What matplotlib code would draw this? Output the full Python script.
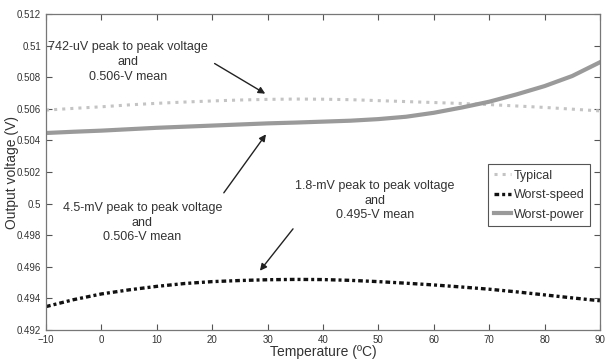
import matplotlib
matplotlib.use("Agg")
import matplotlib.pyplot as plt
from matplotlib.ticker import FuncFormatter

plt.rcParams['font.family'] = ['Liberation Sans', 'DejaVu Sans']

# temperature points (degC)
temps = [-10, -5, 0, 5, 10, 15, 20, 25, 30, 35, 40, 45, 50, 55, 60, 65, 70, 75, 80, 85, 90]

# output voltage (V)
typical = [0.50592, 0.50603, 0.50613, 0.50625, 0.50635, 0.50643, 0.50650,
           0.50656, 0.50660, 0.50662, 0.50661, 0.50658, 0.50652, 0.50646,
           0.50640, 0.50634, 0.50627, 0.50618, 0.50609, 0.50598, 0.50587]
worst_speed = [0.49348, 0.49392, 0.49428, 0.49454, 0.49476, 0.49494, 0.49506,
               0.49513, 0.49518, 0.49520, 0.49519, 0.49514, 0.49506, 0.49496,
               0.49485, 0.49472, 0.49458, 0.49441, 0.49422, 0.49403, 0.49385]
worst_power = [0.50447, 0.50455, 0.50462, 0.50471, 0.50480, 0.50487, 0.50494,
               0.50501, 0.50508, 0.50513, 0.50519, 0.50525, 0.50535, 0.50550,
               0.50575, 0.50608, 0.50645, 0.50692, 0.50744, 0.50808, 0.50895]

x_ticks = [-10, 0, 10, 20, 30, 40, 50, 60, 70, 80, 90]
y_ticks = [0.492, 0.494, 0.496, 0.498, 0.5, 0.502, 0.504, 0.506, 0.508, 0.51, 0.512]

txt = '#333333'

fig = plt.figure(figsize=(6.06, 3.61), dpi=100)
ax = fig.add_axes([0.076, 0.086, 0.914, 0.875])

ax.plot(temps, typical, color='#c4c4c4', linestyle=':', linewidth=2.2, label='Typical')
ax.plot(temps, worst_speed, color='#111111', linestyle='-.', linewidth=2.4,
        dashes=(1.4, 0.9, 0.9, 0.9), label='Worst-speed')
ax.plot(temps, worst_power, color='#9a9a9a', linestyle='-', linewidth=3, label='Worst-power')

ax.set_xlim(-10, 90)
ax.set_ylim(0.492, 0.512)
ax.set_xticks(x_ticks)
ax.set_yticks(y_ticks)
ax.yaxis.set_major_formatter(FuncFormatter(lambda v, p: '%g' % round(v, 4)))
ax.tick_params(direction='in', top=True, right=True, length=4, width=0.8,
               colors='#555555', labelsize=7, labelcolor=txt)
for s in ax.spines.values():
    s.set_color('#777777')
    s.set_linewidth(0.9)

ax.set_xlabel('Temperature (ºC)', fontsize=10, color=txt, va='center')
ax.xaxis.set_label_coords(0.5, -0.069)
ax.set_ylabel('Output voltage (V)', fontsize=10, color=txt, va='center')
ax.yaxis.set_label_coords(-0.061, 0.5)

arrow = dict(arrowstyle='-|>', color='#222222', lw=1, mutation_scale=10)
note = dict(ha='center', va='center', fontsize=9, color=txt, linespacing=1.3)
ax.text(4.8, 0.50896, '742-uV peak to peak voltage\nand\n0.506-V mean', **note)
ax.annotate('', xy=(30, 0.50687), xytext=(20, 0.50896), arrowprops=arrow)
ax.text(7.4, 0.49879, '4.5-mV peak to peak voltage\nand\n0.506-V mean', **note)
ax.annotate('', xy=(30, 0.50453), xytext=(21.8, 0.50054), arrowprops=arrow)
ax.text(49.4, 0.50018, '1.8-mV peak to peak voltage\nand\n0.495-V mean', **note)
ax.annotate('', xy=(28.3, 0.49561), xytext=(34.9, 0.49854), arrowprops=arrow)

leg = ax.legend(loc='upper right', bbox_to_anchor=(0.982, 0.525), fontsize=9,
                handlelength=1.4, handletextpad=0.2, borderpad=0.45, labelspacing=0.6,
                fancybox=False, framealpha=1, borderaxespad=0)
leg.get_frame().set_edgecolor('#555555')
leg.get_frame().set_linewidth(0.8)
for t in leg.get_texts():
    t.set_color(txt)

fig.savefig('out.png', dpi=100)
